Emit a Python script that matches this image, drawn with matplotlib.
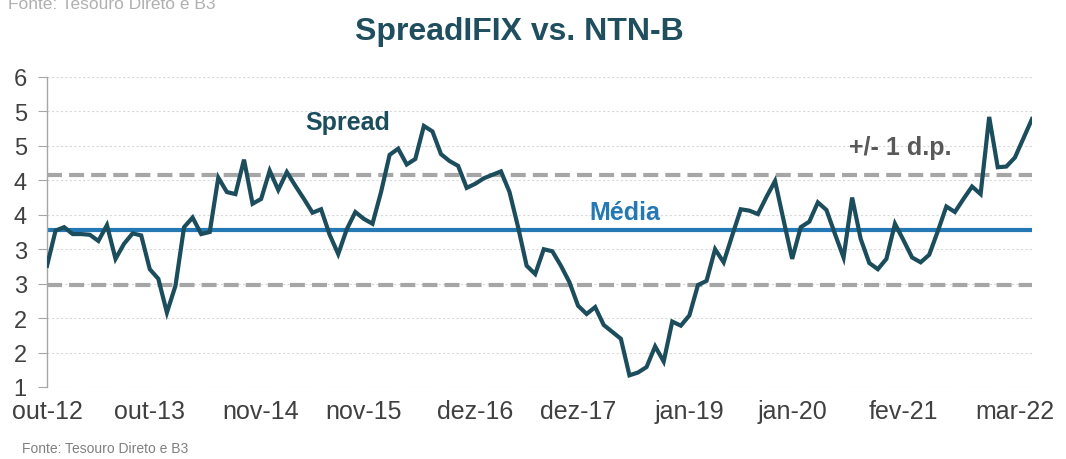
import matplotlib.pyplot as plt
import numpy as np

# Monthly spread (IFIX dividend yield minus NTN-B), out-12 .. mai-22
spread = [
    3.01, 3.52, 3.57, 3.47, 3.47, 3.46, 3.37, 3.60, 3.11, 3.33,
    3.48, 3.45, 2.96, 2.82, 2.33, 2.72, 3.57, 3.71, 3.47, 3.50,
    4.29, 4.08, 4.05, 4.55, 3.91, 3.98, 4.39, 4.11, 4.37, 4.17,
    3.98, 3.78, 3.83, 3.46, 3.18, 3.54, 3.79, 3.69, 3.62, 4.08,
    4.62, 4.71, 4.48, 4.56, 5.04, 4.96, 4.63, 4.53, 4.46, 4.14,
    4.20, 4.28, 4.33, 4.38, 4.08, 3.57, 3.01, 2.89, 3.25, 3.22,
    3.01, 2.77, 2.43, 2.31, 2.41, 2.15, 2.05, 1.95, 1.42, 1.46,
    1.54, 1.84, 1.62, 2.20, 2.14, 2.29, 2.73, 2.79, 3.25, 3.06,
    3.45, 3.83, 3.81, 3.76, 4.01, 4.24, 3.67, 3.11, 3.57, 3.65,
    3.93, 3.82, 3.47, 3.13, 4.00, 3.40, 3.05, 2.96, 3.11, 3.62,
    3.38, 3.13, 3.06, 3.17, 3.51, 3.87, 3.79, 3.98, 4.16, 4.05,
    5.17, 4.44, 4.45, 4.58, 4.86, 5.14,
]
media = 3.53
desvio = 0.80

tick_idx = [0, 12, 25, 37, 50, 62, 75, 87, 100, 113]
tick_labels = ["out-12", "out-13", "nov-14", "nov-15", "dez-16",
               "dez-17", "jan-19", "jan-20", "fev-21", "mar-22"]
y_ticks = [1.25, 1.75, 2.25, 2.75, 3.25, 3.75, 4.25, 4.75, 5.25, 5.75]
y_labels = ["1", "2", "2", "3", "3", "4", "4", "5", "5", "6"]

plt.rcParams["font.family"] = ["Liberation Sans", "DejaVu Sans"]

x = np.arange(len(spread))

fig = plt.figure(figsize=(10.66, 4.6), dpi=100)
ax = fig.add_axes([47 / 1066, 72 / 460, 985 / 1066, 310 / 460])

ax.set_xlim(0, len(spread) - 1)
ax.set_ylim(1.25, 5.75)

for yt in y_ticks:
    ax.axhline(yt, color="#d9d9d9", linewidth=0.8, linestyle=(0, (2, 2)), zorder=0)

dash = (0, (3.6, 1.7))
ax.axhline(media + desvio, color="#a6a6a6", linewidth=3, linestyle=dash, zorder=1)
ax.axhline(media - desvio, color="#a6a6a6", linewidth=3, linestyle=dash, zorder=1)
ax.axhline(media, color="#2479b5", linewidth=3, zorder=2)
ax.plot(x, spread, color="#1b4d5c", linewidth=3, solid_joinstyle="miter", zorder=3)

ax.set_yticks(y_ticks)
ax.set_yticklabels(y_labels)
ax.set_xticks(tick_idx)
ax.set_xticklabels(tick_labels)
ax.tick_params(axis="y", length=6.5, color="#a6a6a6", labelsize=17, labelcolor="#404040", pad=8)
ax.tick_params(axis="x", length=0, labelsize=18, labelcolor="#404040", pad=9)

for side in ["top", "right", "bottom"]:
    ax.spines[side].set_visible(False)
ax.spines["left"].set_color("#a6a6a6")
ax.spines["left"].set_linewidth(1)

ax.text(35.1, 4.995, "Spread", color="#1b4d5c", fontsize=18, fontweight="bold",
        ha="center", va="baseline")
ax.text(67.5, 3.69, "Média", color="#2479b5", fontsize=18, fontweight="bold",
        ha="center", va="baseline")
ax.text(99.6, 4.63, "+/- 1 d.p.", color="#595959", fontsize=18, fontweight="bold",
        ha="center", va="baseline")

fig.text(519 / 1066, 1 - 40 / 460, "SpreadIFIX vs. NTN-B", color="#1f4e5f",
         fontsize=23, fontweight="bold", ha="center", va="baseline")
fig.text(22 / 1066, 1 - 453 / 460, "Fonte: Tesouro Direto e B3", color="#808080",
         fontsize=10, ha="left", va="baseline")
fig.text(8 / 1066, 1 - 9 / 460, "Fonte: Tesouro Direto e B3", color="#b0b0b0",
         fontsize=12.5, ha="left", va="baseline")

fig.savefig("out.png", dpi=100, facecolor="white")
